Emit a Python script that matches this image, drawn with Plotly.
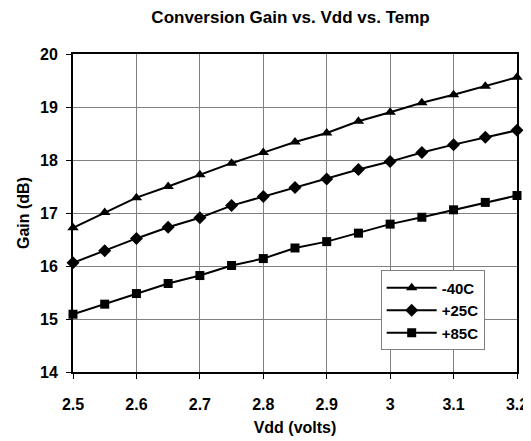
import plotly.graph_objects as go

vdd = [2.5, 2.55, 2.6, 2.65, 2.7, 2.75, 2.8, 2.85, 2.9, 2.95, 3.0, 3.05, 3.1, 3.15, 3.2]
gain_m40 = [16.72, 17.01, 17.29, 17.50, 17.72, 17.94, 18.14, 18.34, 18.51, 18.73, 18.90, 19.08, 19.23, 19.39, 19.56]
gain_p25 = [16.06, 16.29, 16.52, 16.73, 16.91, 17.14, 17.31, 17.48, 17.64, 17.82, 17.97, 18.14, 18.29, 18.43, 18.56]
gain_p85 = [15.09, 15.28, 15.48, 15.67, 15.82, 16.01, 16.14, 16.34, 16.46, 16.62, 16.79, 16.92, 17.06, 17.20, 17.33]

series = [("-40C", gain_m40, "triangle-up", 10),
          ("+25C", gain_p25, "diamond", 10),
          ("+85C", gain_p85, "square", 9)]

FONT = "Liberation Sans, Arial, sans-serif"

fig = go.Figure()
for name, ys, sym, sz in series:
    fig.add_trace(go.Scatter(x=vdd, y=ys, name=name, mode="lines+markers",
                             line=dict(color="black", width=2),
                             marker=dict(symbol=sym, size=sz, color="black"),
                             cliponaxis=False))

# page body has an 8px margin, so the figure is shrunk by 8px on each axis
fig.update_layout(
    width=523, height=433,
    paper_bgcolor="white", plot_bgcolor="white",
    margin=dict(l=65, r=14, t=46, b=69, autoexpand=False),
    font=dict(family=FONT, color="black", size=15),
    title=dict(text="Conversion Gain vs. Vdd vs. Temp", xref="paper", x=0.49, xanchor="center",
               yref="container", y=0.978, yanchor="middle",
               font=dict(size=17, family=FONT, weight="bold")),
    showlegend=True,
    legend=dict(x=0.693, y=0.3195, xanchor="left", yanchor="top",
                bordercolor="#808080", borderwidth=1, bgcolor="white",
                font=dict(size=15, family=FONT, weight="bold"), itemwidth=50,
                tracegroupgap=0),
)
fig.update_xaxes(range=[2.5, 3.2], dtick=0.1, tick0=2.5, showgrid=True, gridcolor="#808080", gridwidth=1,
                 showline=True, linecolor="black", linewidth=2, mirror=True,
                 ticks="outside", ticklen=5, tickcolor="black", ticklabelstandoff=12,
                 tickfont=dict(size=16, family=FONT, weight="bold"), zeroline=False, automargin=False,
                 title=dict(text="Vdd (volts)", font=dict(size=16, family=FONT, weight="bold"), standoff=10))
fig.update_yaxes(range=[14, 20], dtick=1, showgrid=True, gridcolor="#808080", gridwidth=1,
                 showline=True, linecolor="black", linewidth=2, mirror=True,
                 ticks="outside", ticklen=5, tickcolor="black", ticklabelstandoff=5,
                 tickfont=dict(size=16, family=FONT, weight="bold"), zeroline=False, automargin=False,
                 title=dict(text="Gain (dB)", font=dict(size=16, family=FONT, weight="bold"), standoff=6))

fig.write_html("out.html")
